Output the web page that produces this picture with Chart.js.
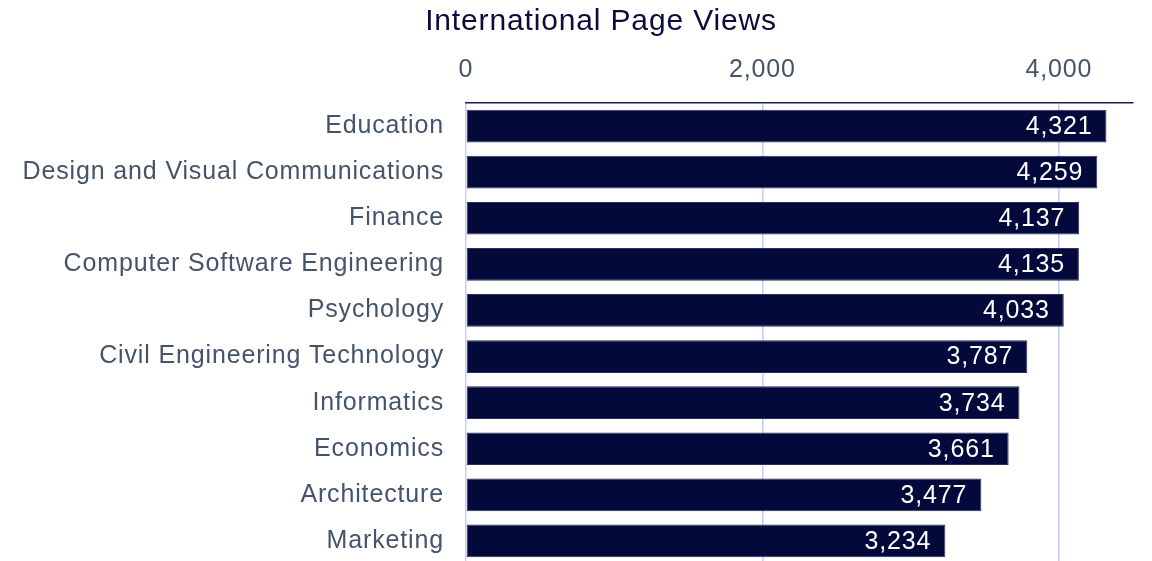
<!DOCTYPE html>
<html>
<head>
<meta charset="utf-8">
<title>International Page Views</title>
<script src="https://cdn.jsdelivr.net/npm/chart.js@4/dist/chart.umd.min.js"></script>
<style>
  html, body { margin: 0; padding: 0; background: #ffffff; overflow: hidden; }
  canvas { display: block; }
</style>
</head>
<body>
<canvas id="viewsChart" width="1152" height="568"></canvas>
<script>
// Programs and their international page views
const programs = [
    'Education',
    'Design and Visual Communications',
    'Finance',
    'Computer Software Engineering',
    'Psychology',
    'Civil Engineering Technology',
    'Informatics',
    'Economics',
    'Architecture',
    'Marketing'
];
const pageViews = [4321, 4259, 4137, 4135, 4033, 3787, 3734, 3661, 3477, 3234];
const axisTicks = [0, 2000, 4000];
const axisMax = 4500;

const chartTitle = 'International Page Views';
const fontFamily = '"Liberation Sans", Arial, sans-serif';

// Title text, drawn a little right of centre like the original layout
const titlePlugin = {
    id: 'titleText',
    beforeDraw(chart) {
        const ctx = chart.ctx;
        ctx.letterSpacing = '0.85px';
        ctx.save();
        ctx.font = '30px ' + fontFamily;
        ctx.fillStyle = '#0b0c3c';
        ctx.textAlign = 'center';
        ctx.textBaseline = 'alphabetic';
        ctx.fillText(chartTitle, 601, 30);
        ctx.restore();
    }
};

// White value labels just inside the end of each bar
const valueLabels = {
    id: 'valueLabels',
    afterDatasetsDraw(chart) {
        const ctx = chart.ctx;
        const meta = chart.getDatasetMeta(0);
        ctx.save();
        ctx.font = '25px ' + fontFamily;
        ctx.fillStyle = '#ffffff';
        ctx.textAlign = 'right';
        ctx.textBaseline = 'middle';
        meta.data.forEach((bar, i) => {
            ctx.fillText(pageViews[i].toLocaleString('en-US'), bar.x - 14, bar.y + 1);
        });
        ctx.restore();
    }
};

// drop the extra room Chart.js reserves for half of the first/last tick label
function noLabelPadding(scale) {
    scale.paddingTop = 0;
    scale.paddingBottom = 0;
    scale.paddingLeft = 0;
    scale.paddingRight = 0;
}

const ctx = document.getElementById('viewsChart').getContext('2d');
new Chart(ctx, {
    type: 'bar',
    data: {
        labels: programs,
        datasets: [{
            label: chartTitle,
            data: pageViews,
            backgroundColor: '#030a3b',
            borderColor: '#2b3060',
            borderWidth: 1,
            borderSkipped: false,
            barPercentage: 0.71,
            categoryPercentage: 1.0
        }]
    },
    options: {
        indexAxis: 'y',
        responsive: false,
        animation: false,
        devicePixelRatio: 1,
        layout: { padding: { top: 0, right: 19, bottom: 4, left: 0 } },
        plugins: {
            legend: { display: false },
            title: { display: false },
            tooltip: { enabled: false }
        },
        scales: {
            x: {
                position: 'top',
                min: 0,
                max: axisMax,
                afterFit(scale) {
                    scale.height = 103;
                    noLabelPadding(scale);
                },
                afterBuildTicks(scale) {
                    scale.ticks = axisTicks.map(v => ({ value: v }));
                },
                ticks: {
                    padding: 18,
                    color: '#44546a',
                    font: { family: fontFamily, size: 25 },
                    callback: v => v.toLocaleString('en-US')
                },
                grid: {
                    color: '#c6ccfb',
                    lineWidth: 1.5,
                    drawTicks: false
                },
                border: {
                    display: true,
                    color: '#1c1f4d',
                    width: 1.5
                }
            },
            y: {
                afterFit(scale) {
                    scale.width = 466;
                    noLabelPadding(scale);
                },
                ticks: {
                    padding: 22,
                    color: '#44546a',
                    font: { family: fontFamily, size: 25 }
                },
                grid: { display: false, drawTicks: false },
                border: { display: false }
            }
        }
    },
    plugins: [titlePlugin, valueLabels]
});
</script>
</body>
</html>
